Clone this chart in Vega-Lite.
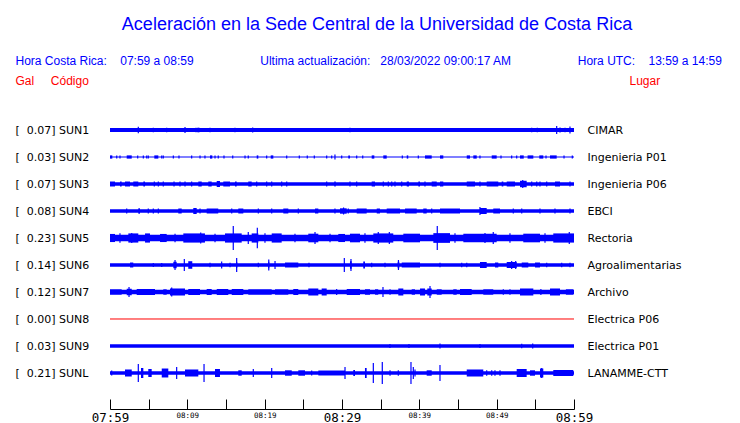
{
  "$schema": "https://vega.github.io/schema/vega-lite/v6.json",
  "width": 464,
  "height": 306,
  "autosize": "none",
  "padding": {"left": 110, "top": 103, "right": 166, "bottom": 14},
  "background": "white",
  "config": {"view": {"stroke": null}, "axis": {"grid": false}},
  "title": {
    "text": "Aceleración en la Sede Central de la Universidad de Costa Rica",
    "anchor": "middle",
    "frame": "group",
    "dx": 35,
    "offset": 20,
    "font": "Liberation Sans",
    "fontSize": 18,
    "fontWeight": "normal",
    "color": "#0000ff"
  },
  "datasets": {
    "stations": [
      {"s": "SUN1", "idx": 9}, {"s": "SUN2", "idx": 8}, {"s": "SUN3", "idx": 7},
      {"s": "SUN4", "idx": 6}, {"s": "SUN5", "idx": 5}, {"s": "SUN6", "idx": 4},
      {"s": "SUN7", "idx": 3}, {"s": "SUN8", "idx": 2}, {"s": "SUN9", "idx": 1},
      {"s": "SUNL", "idx": 0}
    ],
    "base": [
      {"s": "SUN1", "t": 0, "a": 0.036}, {"s": "SUN1", "t": 60, "a": 0.036},
      {"s": "SUN2", "t": 0, "a": 0.009}, {"s": "SUN2", "t": 60, "a": 0.009},
      {"s": "SUN3", "t": 0, "a": 0.034}, {"s": "SUN3", "t": 60, "a": 0.034},
      {"s": "SUN4", "t": 0, "a": 0.031}, {"s": "SUN4", "t": 60, "a": 0.031},
      {"s": "SUN5", "t": 0, "a": 0.058}, {"s": "SUN5", "t": 60, "a": 0.058},
      {"s": "SUN6", "t": 0, "a": 0.031}, {"s": "SUN6", "t": 60, "a": 0.031},
      {"s": "SUN7", "t": 0, "a": 0.041}, {"s": "SUN7", "t": 60, "a": 0.041},
      {"s": "SUN8", "t": 0, "a": 0}, {"s": "SUN8", "t": 60, "a": 0},
      {"s": "SUN9", "t": 0, "a": 0.031}, {"s": "SUN9", "t": 60, "a": 0.031},
      {"s": "SUNL", "t": 0, "a": 0.033}, {"s": "SUNL", "t": 60, "a": 0.033}
    ],
    "bursts": [
      {"s": "SUN1", "t0": 10.99, "t1": 11.64, "a": 0.04},

      {"s": "SUN2", "t0": 0, "t1": 0.3, "a": 0.03},
      {"s": "SUN2", "t0": 2.16, "t1": 2.81, "a": 0.03},
      {"s": "SUN2", "t0": 5.73, "t1": 6.25, "a": 0.03},
      {"s": "SUN2", "t0": 12.93, "t1": 13.23, "a": 0.03},
      {"s": "SUN2", "t0": 18.97, "t1": 19.18, "a": 0.03},
      {"s": "SUN2", "t0": 20.78, "t1": 21.12, "a": 0.03},
      {"s": "SUN2", "t0": 30.81, "t1": 31.03, "a": 0.03},
      {"s": "SUN2", "t0": 33.84, "t1": 34.18, "a": 0.03},
      {"s": "SUN2", "t0": 35.34, "t1": 35.78, "a": 0.03},
      {"s": "SUN2", "t0": 38.37, "t1": 38.57, "a": 0.03},
      {"s": "SUN2", "t0": 40.73, "t1": 41.6, "a": 0.03},
      {"s": "SUN2", "t0": 42.67, "t1": 43.1, "a": 0.03},
      {"s": "SUN2", "t0": 46.13, "t1": 46.55, "a": 0.03},
      {"s": "SUN2", "t0": 46.98, "t1": 47.42, "a": 0.03},
      {"s": "SUN2", "t0": 49.36, "t1": 50.0, "a": 0.03},
      {"s": "SUN2", "t0": 53.02, "t1": 53.5, "a": 0.03},
      {"s": "SUN2", "t0": 54.0, "t1": 54.74, "a": 0.03},
      {"s": "SUN2", "t0": 55.51, "t1": 56.03, "a": 0.03},
      {"s": "SUN2", "t0": 56.9, "t1": 57.76, "a": 0.03},

      {"s": "SUN3", "t0": 0, "t1": 0.65, "a": 0.046},
      {"s": "SUN3", "t0": 1.29, "t1": 1.51, "a": 0.046},
      {"s": "SUN3", "t0": 1.94, "t1": 2.59, "a": 0.046},
      {"s": "SUN3", "t0": 3.01, "t1": 3.66, "a": 0.046},
      {"s": "SUN3", "t0": 4.31, "t1": 4.53, "a": 0.046},
      {"s": "SUN3", "t0": 11.42, "t1": 11.86, "a": 0.046},
      {"s": "SUN3", "t0": 12.71, "t1": 13.15, "a": 0.046},
      {"s": "SUN3", "t0": 13.8, "t1": 14.22, "a": 0.056},
      {"s": "SUN3", "t0": 14.65, "t1": 15.52, "a": 0.046},
      {"s": "SUN3", "t0": 16.16, "t1": 16.38, "a": 0.046},
      {"s": "SUN3", "t0": 17.88, "t1": 18.32, "a": 0.046},
      {"s": "SUN3", "t0": 29.0, "t1": 29.19, "a": 0.046},
      {"s": "SUN3", "t0": 33.84, "t1": 34.27, "a": 0.046},
      {"s": "SUN3", "t0": 38.37, "t1": 38.66, "a": 0.046},
      {"s": "SUN3", "t0": 39.87, "t1": 40.09, "a": 0.046},
      {"s": "SUN3", "t0": 41.6, "t1": 42.25, "a": 0.046},
      {"s": "SUN3", "t0": 42.67, "t1": 43.1, "a": 0.046},
      {"s": "SUN3", "t0": 46.13, "t1": 47.2, "a": 0.046},
      {"s": "SUN3", "t0": 48.71, "t1": 50.21, "a": 0.046},
      {"s": "SUN3", "t0": 50.65, "t1": 50.86, "a": 0.046},
      {"s": "SUN3", "t0": 51.3, "t1": 52.37, "a": 0.046},
      {"s": "SUN3", "t0": 53.02, "t1": 53.88, "a": 0.06},
      {"s": "SUN3", "t0": 57.54, "t1": 58.19, "a": 0.046},

      {"s": "SUN4", "t0": 3.66, "t1": 3.88, "a": 0.05},
      {"s": "SUN4", "t0": 8.83, "t1": 9.27, "a": 0.046},
      {"s": "SUN4", "t0": 10.77, "t1": 11.21, "a": 0.056},
      {"s": "SUN4", "t0": 12.5, "t1": 14.0, "a": 0.046},
      {"s": "SUN4", "t0": 16.59, "t1": 17.24, "a": 0.046},
      {"s": "SUN4", "t0": 22.41, "t1": 23.06, "a": 0.046},
      {"s": "SUN4", "t0": 26.51, "t1": 26.94, "a": 0.046},
      {"s": "SUN4", "t0": 29.74, "t1": 30.61, "a": 0.05},
      {"s": "SUN4", "t0": 31.9, "t1": 33.19, "a": 0.046},
      {"s": "SUN4", "t0": 34.49, "t1": 34.91, "a": 0.046},
      {"s": "SUN4", "t0": 35.78, "t1": 37.5, "a": 0.046},
      {"s": "SUN4", "t0": 38.15, "t1": 39.66, "a": 0.046},
      {"s": "SUN4", "t0": 40.51, "t1": 40.95, "a": 0.046},
      {"s": "SUN4", "t0": 42.67, "t1": 45.26, "a": 0.046},
      {"s": "SUN4", "t0": 47.84, "t1": 48.71, "a": 0.056},
      {"s": "SUN4", "t0": 49.56, "t1": 50.43, "a": 0.046},

      {"s": "SUN5", "t0": 0, "t1": 0.65, "a": 0.075},
      {"s": "SUN5", "t0": 2.37, "t1": 3.66, "a": 0.085},
      {"s": "SUN5", "t0": 4.53, "t1": 5.17, "a": 0.085},
      {"s": "SUN5", "t0": 6.47, "t1": 7.33, "a": 0.075},
      {"s": "SUN5", "t0": 9.48, "t1": 12.28, "a": 0.085},
      {"s": "SUN5", "t0": 14.87, "t1": 17.03, "a": 0.085},
      {"s": "SUN5", "t0": 18.32, "t1": 19.18, "a": 0.085},
      {"s": "SUN5", "t0": 20.91, "t1": 22.2, "a": 0.085},
      {"s": "SUN5", "t0": 25.64, "t1": 26.94, "a": 0.08},
      {"s": "SUN5", "t0": 29.52, "t1": 30.39, "a": 0.075},
      {"s": "SUN5", "t0": 31.03, "t1": 32.33, "a": 0.08},
      {"s": "SUN5", "t0": 34.05, "t1": 36.63, "a": 0.085},
      {"s": "SUN5", "t0": 37.93, "t1": 40.09, "a": 0.08},
      {"s": "SUN5", "t0": 41.81, "t1": 43.97, "a": 0.09},
      {"s": "SUN5", "t0": 45.69, "t1": 50.0, "a": 0.08},
      {"s": "SUN5", "t0": 53.44, "t1": 55.6, "a": 0.08},
      {"s": "SUN5", "t0": 57.32, "t1": 60, "a": 0.085},

      {"s": "SUN6", "t0": 2.59, "t1": 3.01, "a": 0.046},
      {"s": "SUN6", "t0": 8.19, "t1": 8.62, "a": 0.06},
      {"s": "SUN6", "t0": 10.12, "t1": 10.64, "a": 0.07},
      {"s": "SUN6", "t0": 16.29, "t1": 16.46, "a": 0.05},
      {"s": "SUN6", "t0": 20.47, "t1": 20.6, "a": 0.06},
      {"s": "SUN6", "t0": 22.63, "t1": 24.35, "a": 0.046},
      {"s": "SUN6", "t0": 31.03, "t1": 31.25, "a": 0.07},
      {"s": "SUN6", "t0": 32.75, "t1": 32.97, "a": 0.065},
      {"s": "SUN6", "t0": 37.2, "t1": 37.41, "a": 0.06},
      {"s": "SUN6", "t0": 37.72, "t1": 40.09, "a": 0.046},
      {"s": "SUN6", "t0": 47.84, "t1": 48.71, "a": 0.056},
      {"s": "SUN6", "t0": 49.78, "t1": 50.21, "a": 0.046},
      {"s": "SUN6", "t0": 51.3, "t1": 52.59, "a": 0.056},
      {"s": "SUN6", "t0": 53.24, "t1": 54.09, "a": 0.046},
      {"s": "SUN6", "t0": 54.96, "t1": 55.6, "a": 0.046},

      {"s": "SUN7", "t0": 0, "t1": 1.51, "a": 0.05},
      {"s": "SUN7", "t0": 2.16, "t1": 2.81, "a": 0.06},
      {"s": "SUN7", "t0": 3.45, "t1": 5.82, "a": 0.056},
      {"s": "SUN7", "t0": 6.89, "t1": 7.33, "a": 0.05},
      {"s": "SUN7", "t0": 7.76, "t1": 9.7, "a": 0.065},
      {"s": "SUN7", "t0": 10.12, "t1": 11.64, "a": 0.056},
      {"s": "SUN7", "t0": 12.5, "t1": 13.15, "a": 0.056},
      {"s": "SUN7", "t0": 13.8, "t1": 15.3, "a": 0.056},
      {"s": "SUN7", "t0": 15.74, "t1": 17.24, "a": 0.056},
      {"s": "SUN7", "t0": 17.88, "t1": 20.91, "a": 0.05},
      {"s": "SUN7", "t0": 21.34, "t1": 23.06, "a": 0.05},
      {"s": "SUN7", "t0": 23.7, "t1": 24.35, "a": 0.056},
      {"s": "SUN7", "t0": 25.64, "t1": 26.94, "a": 0.065},
      {"s": "SUN7", "t0": 27.37, "t1": 28.02, "a": 0.065},
      {"s": "SUN7", "t0": 30.61, "t1": 32.33, "a": 0.056},
      {"s": "SUN7", "t0": 32.97, "t1": 33.62, "a": 0.05},
      {"s": "SUN7", "t0": 34.27, "t1": 34.69, "a": 0.05},
      {"s": "SUN7", "t0": 37.28, "t1": 37.93, "a": 0.065},
      {"s": "SUN7", "t0": 39.01, "t1": 39.44, "a": 0.05},
      {"s": "SUN7", "t0": 40.09, "t1": 40.73, "a": 0.065},
      {"s": "SUN7", "t0": 41.03, "t1": 41.6, "a": 0.065},
      {"s": "SUN7", "t0": 42.25, "t1": 42.89, "a": 0.05},
      {"s": "SUN7", "t0": 44.39, "t1": 44.83, "a": 0.05},
      {"s": "SUN7", "t0": 45.26, "t1": 46.77, "a": 0.056},
      {"s": "SUN7", "t0": 48.27, "t1": 49.56, "a": 0.05},
      {"s": "SUN7", "t0": 53.02, "t1": 54.74, "a": 0.065},
      {"s": "SUN7", "t0": 55.6, "t1": 55.82, "a": 0.05},
      {"s": "SUN7", "t0": 56.9, "t1": 58.19, "a": 0.065},
      {"s": "SUN7", "t0": 58.95, "t1": 59.91, "a": 0.05},

      {"s": "SUNL", "t0": 1.94, "t1": 2.81, "a": 0.065},
      {"s": "SUNL", "t0": 4.01, "t1": 4.31, "a": 0.093},
      {"s": "SUNL", "t0": 4.95, "t1": 5.39, "a": 0.074},
      {"s": "SUNL", "t0": 6.69, "t1": 7.54, "a": 0.083},
      {"s": "SUNL", "t0": 9.7, "t1": 11.42, "a": 0.065},
      {"s": "SUNL", "t0": 13.58, "t1": 14.22, "a": 0.074},
      {"s": "SUNL", "t0": 16.59, "t1": 17.03, "a": 0.05},
      {"s": "SUNL", "t0": 22.63, "t1": 23.5, "a": 0.05},
      {"s": "SUNL", "t0": 24.35, "t1": 25.22, "a": 0.05},
      {"s": "SUNL", "t0": 26.94, "t1": 30.39, "a": 0.046},
      {"s": "SUNL", "t0": 31.46, "t1": 31.68, "a": 0.056},
      {"s": "SUNL", "t0": 32.97, "t1": 33.19, "a": 0.093},
      {"s": "SUNL", "t0": 40.95, "t1": 41.6, "a": 0.05},
      {"s": "SUNL", "t0": 46.13, "t1": 48.27, "a": 0.065},
      {"s": "SUNL", "t0": 52.59, "t1": 53.88, "a": 0.074},
      {"s": "SUNL", "t0": 54.31, "t1": 54.96, "a": 0.05},
      {"s": "SUNL", "t0": 55.6, "t1": 56.03, "a": 0.083},
      {"s": "SUNL", "t0": 57.32, "t1": 59.91, "a": 0.056}
    ],
    "spikes": [
      {"s": "SUN1", "t": 3.66, "a": 0.062}, {"s": "SUN1", "t": 5.6, "a": 0.04},
      {"s": "SUN1", "t": 7.33, "a": 0.04}, {"s": "SUN1", "t": 9.7, "a": 0.056},
      {"s": "SUN1", "t": 11.42, "a": 0.04}, {"s": "SUN1", "t": 12.93, "a": 0.04},
      {"s": "SUN1", "t": 16.16, "a": 0.04}, {"s": "SUN1", "t": 18.45, "a": 0.046},
      {"s": "SUN1", "t": 29.39, "a": 0.037}, {"s": "SUN1", "t": 31.03, "a": 0.04},
      {"s": "SUN1", "t": 54.53, "a": 0.04}, {"s": "SUN1", "t": 55.25, "a": 0.04},
      {"s": "SUN1", "t": 57.76, "a": 0.074}, {"s": "SUN1", "t": 58.19, "a": 0.046},
      {"s": "SUN1", "t": 58.84, "a": 0.04}, {"s": "SUN1", "t": 59.48, "a": 0.065},

      {"s": "SUN2", "t": 0.87, "a": 0.03}, {"s": "SUN2", "t": 1.29, "a": 0.03},
      {"s": "SUN2", "t": 3.58, "a": 0.03}, {"s": "SUN2", "t": 4.31, "a": 0.03},
      {"s": "SUN2", "t": 4.75, "a": 0.03}, {"s": "SUN2", "t": 4.95, "a": 0.03},
      {"s": "SUN2", "t": 6.69, "a": 0.03}, {"s": "SUN2", "t": 6.89, "a": 0.03},
      {"s": "SUN2", "t": 8.19, "a": 0.03}, {"s": "SUN2", "t": 8.92, "a": 0.03},
      {"s": "SUN2", "t": 10.56, "a": 0.03}, {"s": "SUN2", "t": 11.64, "a": 0.03},
      {"s": "SUN2", "t": 12.28, "a": 0.03}, {"s": "SUN2", "t": 13.58, "a": 0.03},
      {"s": "SUN2", "t": 14.0, "a": 0.03}, {"s": "SUN2", "t": 14.74, "a": 0.03},
      {"s": "SUN2", "t": 15.87, "a": 0.03}, {"s": "SUN2", "t": 17.46, "a": 0.03},
      {"s": "SUN2", "t": 17.88, "a": 0.03}, {"s": "SUN2", "t": 20.26, "a": 0.03},
      {"s": "SUN2", "t": 22.85, "a": 0.03}, {"s": "SUN2", "t": 24.48, "a": 0.03},
      {"s": "SUN2", "t": 25.51, "a": 0.03}, {"s": "SUN2", "t": 26.42, "a": 0.03},
      {"s": "SUN2", "t": 28.02, "a": 0.03}, {"s": "SUN2", "t": 28.67, "a": 0.03},
      {"s": "SUN2", "t": 29.09, "a": 0.046}, {"s": "SUN2", "t": 29.96, "a": 0.03},
      {"s": "SUN2", "t": 31.9, "a": 0.03}, {"s": "SUN2", "t": 32.68, "a": 0.03},
      {"s": "SUN2", "t": 37.8, "a": 0.03}, {"s": "SUN2", "t": 39.87, "a": 0.03},
      {"s": "SUN2", "t": 47.84, "a": 0.03}, {"s": "SUN2", "t": 50.56, "a": 0.03},
      {"s": "SUN2", "t": 51.94, "a": 0.03}, {"s": "SUN2", "t": 52.59, "a": 0.03},
      {"s": "SUN2", "t": 56.38, "a": 0.03}, {"s": "SUN2", "t": 58.71, "a": 0.03},
      {"s": "SUN2", "t": 59.78, "a": 0.03},

      {"s": "SUN3", "t": 5.73, "a": 0.046}, {"s": "SUN3", "t": 6.25, "a": 0.046},
      {"s": "SUN3", "t": 6.89, "a": 0.046}, {"s": "SUN3", "t": 8.28, "a": 0.046},
      {"s": "SUN3", "t": 9.05, "a": 0.046}, {"s": "SUN3", "t": 9.7, "a": 0.046},
      {"s": "SUN3", "t": 10.56, "a": 0.046}, {"s": "SUN3", "t": 18.97, "a": 0.046},
      {"s": "SUN3", "t": 20.26, "a": 0.046}, {"s": "SUN3", "t": 20.91, "a": 0.046},
      {"s": "SUN3", "t": 22.2, "a": 0.046}, {"s": "SUN3", "t": 22.85, "a": 0.046},
      {"s": "SUN3", "t": 28.02, "a": 0.046}, {"s": "SUN3", "t": 31.03, "a": 0.046},
      {"s": "SUN3", "t": 31.9, "a": 0.046}, {"s": "SUN3", "t": 35.34, "a": 0.046},
      {"s": "SUN3", "t": 35.99, "a": 0.046}, {"s": "SUN3", "t": 36.43, "a": 0.046},
      {"s": "SUN3", "t": 36.85, "a": 0.046}, {"s": "SUN3", "t": 37.72, "a": 0.046},
      {"s": "SUN3", "t": 40.73, "a": 0.046}, {"s": "SUN3", "t": 47.84, "a": 0.046},
      {"s": "SUN3", "t": 53.37, "a": 0.074}, {"s": "SUN3", "t": 54.53, "a": 0.046},
      {"s": "SUN3", "t": 55.18, "a": 0.046}, {"s": "SUN3", "t": 55.6, "a": 0.046},
      {"s": "SUN3", "t": 56.47, "a": 0.046}, {"s": "SUN3", "t": 59.48, "a": 0.046},

      {"s": "SUN4", "t": 2.16, "a": 0.046}, {"s": "SUN4", "t": 4.95, "a": 0.046},
      {"s": "SUN4", "t": 5.6, "a": 0.046}, {"s": "SUN4", "t": 6.25, "a": 0.046},
      {"s": "SUN4", "t": 11.64, "a": 0.046}, {"s": "SUN4", "t": 15.74, "a": 0.046},
      {"s": "SUN4", "t": 19.18, "a": 0.046}, {"s": "SUN4", "t": 20.91, "a": 0.046},
      {"s": "SUN4", "t": 24.35, "a": 0.046}, {"s": "SUN4", "t": 29.09, "a": 0.046},
      {"s": "SUN4", "t": 30.2, "a": 0.065}, {"s": "SUN4", "t": 30.81, "a": 0.046},
      {"s": "SUN4", "t": 41.6, "a": 0.046}, {"s": "SUN4", "t": 47.84, "a": 0.074},
      {"s": "SUN4", "t": 52.15, "a": 0.046}, {"s": "SUN4", "t": 53.24, "a": 0.046},
      {"s": "SUN4", "t": 55.6, "a": 0.046}, {"s": "SUN4", "t": 57.54, "a": 0.046},
      {"s": "SUN4", "t": 59.48, "a": 0.046},

      {"s": "SUN5", "t": 1.29, "a": 0.09}, {"s": "SUN5", "t": 2.81, "a": 0.093},
      {"s": "SUN5", "t": 8.41, "a": 0.08}, {"s": "SUN5", "t": 11.73, "a": 0.1},
      {"s": "SUN5", "t": 13.58, "a": 0.08}, {"s": "SUN5", "t": 15.94, "a": 0.222},
      {"s": "SUN5", "t": 17.88, "a": 0.111}, {"s": "SUN5", "t": 19.05, "a": 0.19},
      {"s": "SUN5", "t": 20.04, "a": 0.09}, {"s": "SUN5", "t": 23.92, "a": 0.08},
      {"s": "SUN5", "t": 26.51, "a": 0.111}, {"s": "SUN5", "t": 28.45, "a": 0.08},
      {"s": "SUN5", "t": 32.97, "a": 0.09}, {"s": "SUN5", "t": 34.69, "a": 0.111},
      {"s": "SUN5", "t": 36.12, "a": 0.111}, {"s": "SUN5", "t": 42.32, "a": 0.222},
      {"s": "SUN5", "t": 44.61, "a": 0.09}, {"s": "SUN5", "t": 48.49, "a": 0.093},
      {"s": "SUN5", "t": 49.56, "a": 0.111}, {"s": "SUN5", "t": 51.72, "a": 0.09},
      {"s": "SUN5", "t": 56.25, "a": 0.09}, {"s": "SUN5", "t": 59.39, "a": 0.111},

      {"s": "SUN6", "t": 5.6, "a": 0.037}, {"s": "SUN6", "t": 6.69, "a": 0.037},
      {"s": "SUN6", "t": 8.41, "a": 0.093}, {"s": "SUN6", "t": 9.61, "a": 0.111},
      {"s": "SUN6", "t": 12.93, "a": 0.04}, {"s": "SUN6", "t": 14.44, "a": 0.065},
      {"s": "SUN6", "t": 15.52, "a": 0.04}, {"s": "SUN6", "t": 16.38, "a": 0.13},
      {"s": "SUN6", "t": 19.18, "a": 0.04}, {"s": "SUN6", "t": 20.53, "a": 0.1},
      {"s": "SUN6", "t": 21.34, "a": 0.074}, {"s": "SUN6", "t": 25.73, "a": 0.04},
      {"s": "SUN6", "t": 30.3, "a": 0.13}, {"s": "SUN6", "t": 31.16, "a": 0.111},
      {"s": "SUN6", "t": 33.84, "a": 0.04}, {"s": "SUN6", "t": 35.56, "a": 0.04},
      {"s": "SUN6", "t": 37.3, "a": 0.093}, {"s": "SUN6", "t": 42.67, "a": 0.04},
      {"s": "SUN6", "t": 45.48, "a": 0.04}, {"s": "SUN6", "t": 46.13, "a": 0.04},
      {"s": "SUN6", "t": 51.94, "a": 0.074}, {"s": "SUN6", "t": 52.46, "a": 0.074},
      {"s": "SUN6", "t": 56.47, "a": 0.04}, {"s": "SUN6", "t": 58.41, "a": 0.04},
      {"s": "SUN6", "t": 59.48, "a": 0.04},

      {"s": "SUN7", "t": 2.46, "a": 0.093}, {"s": "SUN7", "t": 7.98, "a": 0.083},
      {"s": "SUN7", "t": 29.31, "a": 0.056}, {"s": "SUN7", "t": 35.3, "a": 0.093},
      {"s": "SUN7", "t": 36.21, "a": 0.05}, {"s": "SUN7", "t": 41.38, "a": 0.111},
      {"s": "SUN7", "t": 50.86, "a": 0.05}, {"s": "SUN7", "t": 51.72, "a": 0.05},

      {"s": "SUN9", "t": 36.2, "a": 0.037}, {"s": "SUN9", "t": 38.66, "a": 0.037},
      {"s": "SUN9", "t": 42.67, "a": 0.048}, {"s": "SUN9", "t": 47.84, "a": 0.037},
      {"s": "SUN9", "t": 53.24, "a": 0.04}, {"s": "SUN9", "t": 54.66, "a": 0.048},

      {"s": "SUNL", "t": 0.22, "a": 0.046}, {"s": "SUNL", "t": 3.66, "a": 0.167},
      {"s": "SUNL", "t": 8.62, "a": 0.111}, {"s": "SUNL", "t": 12.16, "a": 0.167},
      {"s": "SUNL", "t": 18.53, "a": 0.074}, {"s": "SUNL", "t": 20.91, "a": 0.093},
      {"s": "SUNL", "t": 26.08, "a": 0.046}, {"s": "SUNL", "t": 30.39, "a": 0.111},
      {"s": "SUNL", "t": 34.05, "a": 0.185}, {"s": "SUNL", "t": 35.21, "a": 0.204},
      {"s": "SUNL", "t": 36.21, "a": 0.05}, {"s": "SUNL", "t": 37.28, "a": 0.05},
      {"s": "SUNL", "t": 38.92, "a": 0.204}, {"s": "SUNL", "t": 39.22, "a": 0.111},
      {"s": "SUNL", "t": 39.44, "a": 0.065}, {"s": "SUNL", "t": 42.67, "a": 0.148},
      {"s": "SUNL", "t": 48.71, "a": 0.05}, {"s": "SUNL", "t": 49.36, "a": 0.05},
      {"s": "SUNL", "t": 49.78, "a": 0.05}, {"s": "SUNL", "t": 50.43, "a": 0.05},
      {"s": "SUNL", "t": 55.82, "a": 0.093}
    ]
  },
  "layer": [
    {
      "data": {"name": "base"},
      "transform": [
        {"filter": "datum.s !== 'SUN8'"},
        {"lookup": "s", "from": {"data": {"name": "stations"}, "key": "s", "fields": ["idx"]}},
        {"calculate": "datum.idx * 0.5 - datum.a", "as": "lo"},
        {"calculate": "datum.idx * 0.5 + datum.a", "as": "hi"}
      ],
      "mark": {"type": "area", "color": "#0000ff", "orient": "vertical"},
      "encoding": {
        "x": {
          "field": "t", "type": "quantitative",
          "scale": {"domain": [0, 60], "nice": false, "zero": false},
          "axis": {
            "orient": "bottom",
            "values": [0, 5, 10, 15, 20, 25, 30, 35, 40, 45, 50, 55, 60],
            "domain": true, "domainColor": "black", "domainWidth": 1,
            "ticks": true, "tickColor": "black", "tickWidth": 1, "tickSize": -10,
            "labelExpr": "datum.value % 10 == 0 ? timeFormat(datetime(2022, 2, 28, 7, 59 + datum.value), '%H:%M') : ''",
            "labelFont": "DejaVu Sans Mono",
            "labelFontSize": {"condition": {"test": "datum.value % 30 == 0", "value": 12.5}, "value": 7.5},
            "labelColor": "black",
            "labelBaseline": "top",
            "labelPadding": 12.5,
            "labelFlush": false,
            "labelOverlap": false,
            "title": null
          }
        },
        "y": {
          "field": "lo", "type": "quantitative",
          "scale": {"domain": [-0.6667, 5], "nice": false, "zero": false},
          "axis": {
            "orient": "left",
            "values": [0, 0.5, 1, 1.5, 2, 2.5, 3, 3.5, 4, 4.5],
            "domain": false, "ticks": false, "tickSize": 0,
            "labelExpr": "['[\u00a0\u00a00.21] SUNL', '[\u00a0\u00a00.03] SUN9', '[\u00a0\u00a00.00] SUN8', '[\u00a0\u00a00.12] SUN7', '[\u00a0\u00a00.14] SUN6', '[\u00a0\u00a00.23] SUN5', '[\u00a0\u00a00.08] SUN4', '[\u00a0\u00a00.07] SUN3', '[\u00a0\u00a00.03] SUN2', '[\u00a0\u00a00.07] SUN1'][round(datum.value * 2)]",
            "labelAlign": "left",
            "labelBaseline": "middle",
            "labelPadding": 95,
            "labelFont": "DejaVu Sans",
            "labelFontSize": 11,
            "labelColor": "black",
            "labelOverlap": false,
            "labelBound": false,
            "labelOffset": 1,
            "title": "Gal\u00a0\u00a0\u00a0\u00a0\u00a0Código",
            "titleColor": "#ff0000",
            "titleFont": "Liberation Sans",
            "titleFontSize": 12,
            "titleFontWeight": "normal",
            "titleAngle": 0,
            "titleAlign": "left",
            "titleBaseline": "middle",
            "titleX": -95,
            "titleY": -23
          }
        },
        "y2": {"field": "hi"},
        "detail": {"field": "s"}
      }
    },
    {
      "data": {"name": "bursts"},
      "transform": [
        {"lookup": "s", "from": {"data": {"name": "stations"}, "key": "s", "fields": ["idx"]}},
        {"calculate": "datum.idx * 0.5 - datum.a", "as": "lo"},
        {"calculate": "datum.idx * 0.5 + datum.a", "as": "hi"}
      ],
      "mark": {"type": "rect", "color": "#0000ff"},
      "encoding": {
        "x": {
          "field": "t0", "type": "quantitative",
          "scale": {"domain": [0, 60], "nice": false, "zero": false},
          "axis": {
            "orient": "top",
            "domain": false, "ticks": false, "labels": false,
            "title": "Hora Costa Rica:\u00a0\u00a0\u00a0\u00a007:59 a 08:59\u00a0\u00a0\u00a0\u00a0\u00a0\u00a0\u00a0\u00a0\u00a0\u00a0\u00a0\u00a0\u00a0\u00a0\u00a0\u00a0\u00a0\u00a0\u00a0\u00a0Ultima actualización:\u00a0\u00a0\u00a028/03/2022 09:00:17 AM\u00a0\u00a0\u00a0\u00a0\u00a0\u00a0\u00a0\u00a0\u00a0\u00a0\u00a0\u00a0\u00a0\u00a0\u00a0\u00a0\u00a0\u00a0\u00a0\u00a0Hora UTC:\u00a0\u00a0\u00a0\u00a013:59 a 14:59",
            "titleColor": "#0000ff",
            "titleFont": "Liberation Sans",
            "titleFontSize": 12,
            "titleFontWeight": "normal",
            "titleAngle": 0,
            "titleAlign": "left",
            "titleBaseline": "middle",
            "titleX": -95,
            "titleY": -43
          }
        },
        "x2": {"field": "t1"},
        "y": {
          "field": "lo", "type": "quantitative",
          "scale": {"domain": [-0.6667, 5], "nice": false, "zero": false},
          "axis": {
            "orient": "right",
            "values": [0, 0.5, 1, 1.5, 2, 2.5, 3, 3.5, 4, 4.5],
            "domain": false, "ticks": false, "tickSize": 0,
            "labelExpr": "['LANAMME-CTT', 'Electrica P01', 'Electrica P06', 'Archivo', 'Agroalimentarias', 'Rectoria', 'EBCI', 'Ingenieria P06', 'Ingenieria P01', 'CIMAR'][round(datum.value * 2)]",
            "labelAlign": "left",
            "labelBaseline": "middle",
            "labelPadding": 13,
            "labelFont": "DejaVu Sans",
            "labelFontSize": 11,
            "labelColor": "black",
            "labelOverlap": false,
            "labelBound": false,
            "labelOffset": 1,
            "title": "Lugar",
            "titleColor": "#ff0000",
            "titleFont": "Liberation Sans",
            "titleFontSize": 12,
            "titleFontWeight": "normal",
            "titleAngle": 0,
            "titleAlign": "left",
            "titleBaseline": "middle",
            "titleX": 55,
            "titleY": -23
          }
        },
        "y2": {"field": "hi"}
      }
    },
    {
      "data": {"name": "spikes"},
      "transform": [
        {"lookup": "s", "from": {"data": {"name": "stations"}, "key": "s", "fields": ["idx"]}},
        {"calculate": "datum.idx * 0.5 - datum.a", "as": "lo"},
        {"calculate": "datum.idx * 0.5 + datum.a", "as": "hi"}
      ],
      "mark": {"type": "rule", "color": "#0000ff", "strokeWidth": 1.2},
      "encoding": {
        "x": {"field": "t", "type": "quantitative", "scale": {"domain": [0, 60], "nice": false, "zero": false}, "axis": null},
        "y": {"field": "lo", "type": "quantitative", "scale": {"domain": [-0.6667, 5], "nice": false, "zero": false}, "axis": null},
        "y2": {"field": "hi"}
      }
    },
    {
      "data": {"name": "base"},
      "transform": [
        {"filter": "datum.s === 'SUN8'"},
        {"lookup": "s", "from": {"data": {"name": "stations"}, "key": "s", "fields": ["idx"]}},
        {"calculate": "datum.idx * 0.5 - datum.a", "as": "lo"}
      ],
      "mark": {"type": "line", "color": "#ff0000", "strokeWidth": 1},
      "encoding": {
        "x": {"field": "t", "type": "quantitative", "scale": {"domain": [0, 60], "nice": false, "zero": false}, "axis": null},
        "y": {"field": "lo", "type": "quantitative", "scale": {"domain": [-0.6667, 5], "nice": false, "zero": false}, "axis": null}
      }
    }
  ],
  "resolve": {"axis": {"x": "independent", "y": "independent"}}
}
